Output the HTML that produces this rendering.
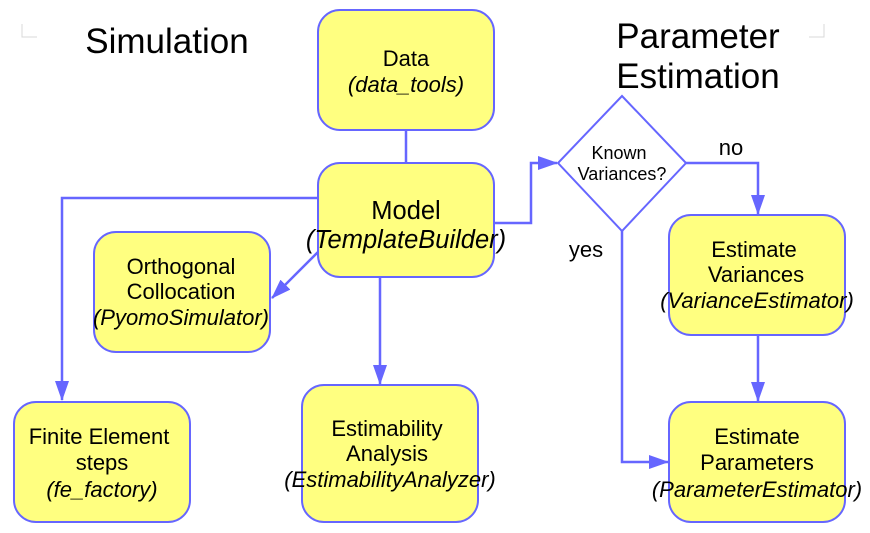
<!DOCTYPE html>
<html><head><style>body{margin:0;background:#fff}svg{display:block}text{font-family:"Liberation Sans",sans-serif;fill:#000}</style></head>
<body>
<svg width="870" height="533" viewBox="0 0 870 533">
<defs><marker id="a" markerWidth="20" markerHeight="14" refX="19" refY="7" orient="auto" markerUnits="userSpaceOnUse"><path d="M0,0 L20,7 L0,14 Z" fill="#6666ff"/></marker></defs>
<g stroke="#d8d8d8" stroke-width="1" fill="none">
<path d="M22,24 V37 H37"/><path d="M824,24 V37 H809"/>
</g>
<g stroke="#6666ff" stroke-width="2.5" fill="none">
<line x1="406" y1="130" x2="406" y2="163"/>
<polyline points="318,198 62,198 62,400" marker-end="url(#a)"/>
<line x1="318" y1="252" x2="272" y2="298" marker-end="url(#a)"/>
<line x1="380" y1="277" x2="380" y2="384" marker-end="url(#a)"/>
<polyline points="494,223 531,223 531,163 557,163" marker-end="url(#a)"/>
<polyline points="686,163 758,163 758,214" marker-end="url(#a)"/>
<polyline points="622,231 622,462 668,462" marker-end="url(#a)"/>
<line x1="758" y1="335" x2="758" y2="401" marker-end="url(#a)"/>
</g>
<g fill="#ffff80" stroke="#6666ff" stroke-width="2">
<rect x="318" y="10" width="176" height="120" rx="22"/>
<rect x="318" y="163" width="176" height="114" rx="22"/>
<rect x="94" y="232" width="176" height="120" rx="22"/>
<rect x="14" y="402" width="176" height="120" rx="22"/>
<rect x="302" y="385" width="176" height="137" rx="22"/>
<rect x="669" y="215" width="176" height="120" rx="22"/>
<rect x="669" y="402" width="176" height="120" rx="22"/>
</g>
<polygon points="622,96 686,163 622,231 558,163" fill="#fff" stroke="#6666ff" stroke-width="2"/>
<g font-size="22" text-anchor="middle">
<text x="406" y="66">Data</text><text x="406" y="92" font-style="italic">(data_tools)</text>
<text x="406" y="219" font-size="25.5">Model</text><text x="406" y="248" font-size="25.5" font-style="italic">(TemplateBuilder)</text>
<text x="181" y="274">Orthogonal</text><text x="181" y="299">Collocation</text><text x="181" y="325" font-style="italic">(PyomoSimulator)</text>
<text x="99" y="444">Finite Element</text><text x="102" y="470">steps</text><text x="102" y="497" font-style="italic">(fe_factory)</text>
<text x="387" y="436">Estimability</text><text x="387" y="461">Analysis</text><text x="390" y="487" font-style="italic">(EstimabilityAnalyzer)</text>
<text x="754" y="257">Estimate</text><text x="756" y="282">Variances</text><text x="757" y="308" font-style="italic">(VarianceEstimator)</text>
<text x="757" y="444">Estimate</text><text x="757" y="470">Parameters</text><text x="757" y="497" font-style="italic">(ParameterEstimator)</text>
<text x="619" y="159" font-size="18">Known</text><text x="622" y="180" font-size="18">Variances?</text>
<text x="731" y="155">no</text><text x="586" y="257">yes</text>
<text x="167" y="53" font-size="35">Simulation</text>
<text x="698" y="48" font-size="35">Parameter</text><text x="698" y="88" font-size="35">Estimation</text>
</g>
</svg>
</body></html>
